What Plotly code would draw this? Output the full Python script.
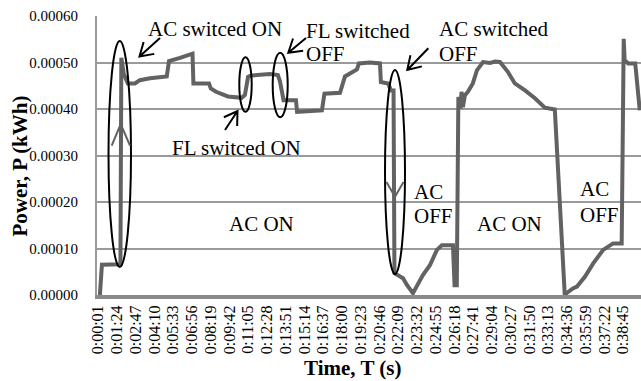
import math
import plotly.graph_objects as go

# ---------------- data ----------------
time_s = [1, 8, 17, 95, 99, 103, 114, 132, 163, 185, 230, 304, 314, 363, 418, 422,
          491, 499, 522, 575, 636, 650, 664, 677, 699, 761, 796, 805, 821, 876, 881,
          938, 991, 1002, 1071, 1093, 1124, 1146, 1155, 1204, 1248, 1252, 1284, 1297,
          1308, 1312, 1350, 1368, 1394, 1412, 1438, 1469, 1500, 1522, 1571, 1578, 1588,
          1595, 1604, 1609, 1615, 1624, 1637, 1659, 1677, 1704, 1735, 1757, 1779, 1814,
          1845, 1890, 1934, 1978, 2022, 2066, 2074, 2102, 2120, 2155, 2192, 2236, 2280,
          2318, 2327, 2331, 2347, 2378, 2398, 2402]
power_kwh = [0.0, 0.0, 0.000065, 0.000065, 0.000066, 0.000510, 0.000475, 0.000455,
             0.000455, 0.000462, 0.000466, 0.000470, 0.000503, 0.000510, 0.000519,
             0.000455, 0.000455, 0.000444, 0.000437, 0.000427, 0.000424, 0.000430,
             0.000469, 0.000472, 0.000473, 0.000475, 0.000473, 0.000460, 0.000419,
             0.000419, 0.000394, 0.000395, 0.000397, 0.000433, 0.000435, 0.000470,
             0.000478, 0.000485, 0.000498, 0.000500, 0.000498, 0.000458, 0.000455,
             0.000440, 0.000440, 0.000047, 0.000036, 0.000021, 0.000004, 0.000021,
             0.000043, 0.000064, 0.000097, 0.000107, 0.000107, 0.000021, 0.000021,
             0.000426, 0.000401, 0.000437, 0.000404, 0.000430, 0.000437, 0.000455,
             0.000483, 0.000501, 0.000499, 0.000502, 0.000501, 0.000480, 0.000455,
             0.000440, 0.000423, 0.000403, 0.000399, 0.0, 0.000004, 0.000014,
             0.000018, 0.000039, 0.000068, 0.000097, 0.000111, 0.000111, 0.000551,
             0.000505, 0.000498, 0.000498, 0.000397]
power_kwh = power_kwh[:len(time_s)]

x_tick_labels = ["0:00:01", "0:01:24", "0:02:47", "0:04:10", "0:05:33", "0:06:56",
                 "0:08:19", "0:09:42", "0:11:05", "0:12:28", "0:13:51", "0:15:14",
                 "0:16:37", "0:18:00", "0:19:23", "0:20:46", "0:22:09", "0:23:32",
                 "0:24:55", "0:26:18", "0:27:41", "0:29:04", "0:30:27", "0:31:50",
                 "0:33:13", "0:34:36", "0:35:59", "0:37:22", "0:38:45"]
y_tick_values = [0.0, 0.0001, 0.0002, 0.0003, 0.0004, 0.0005, 0.0006]
y_tick_labels = ["0.00000", "0.00010", "0.00020", "0.00030", "0.00040", "0.00050", "0.00060"]


def to_seconds(label):
    h, m, s = (int(p) for p in label.split(":"))
    return h * 3600 + m * 60 + s


x_tick_values = [to_seconds(t) for t in x_tick_labels]

# ---------------- layout geometry ----------------
W, H = 641, 381
L, R, T, B = 97, 0, 16, 86
X_MIN, X_MAX = -4.76, 2403.5
Y_MIN, Y_MAX = 0.0, 0.0006


def tx(px):  # reference pixel x -> data x
    return X_MIN + (px - L) / (W - L - R) * (X_MAX - X_MIN)


def vy(py):  # reference pixel y -> data y
    return Y_MIN + (H - B - py) / (H - B - T) * (Y_MAX - Y_MIN)


def px_paper(px):
    return (px - L) / (W - L - R)


def py_paper(py):
    return (H - B - py) / (H - B - T)


FONT = "Liberation Serif"
LINE_GRAY = "#626262"
GRID_GRAY = "#9a9a9a"

fig = go.Figure()
fig.add_trace(go.Scatter(x=time_s, y=power_kwh, mode="lines",
                         line=dict(color=LINE_GRAY, width=4),
                         hoverinfo="skip", showlegend=False))

shapes = []
# ellipses
for (x0, x1, y0, y1) in [(108.5, 131, 41, 267), (239.3, 251.7, 57.3, 111.7),
                         (272.7, 287.7, 52.7, 117.3), (385, 405, 70, 274)]:
    shapes.append(dict(type="circle", xref="x", yref="y", x0=tx(x0), x1=tx(x1),
                       y0=vy(y1), y1=vy(y0), line=dict(color="black", width=2)))


def arrow(tip, tail, length=15, ang=32, color="black", width=2):
    dx, dy = tail[0] - tip[0], tail[1] - tip[1]
    d = math.hypot(dx, dy)
    ux, uy = dx / d, dy / d
    res = []
    for s in (1, -1):
        a = math.radians(ang * s)
        wx = ux * math.cos(a) - uy * math.sin(a)
        wy = ux * math.sin(a) + uy * math.cos(a)
        res.append((tip[0] + length * wx, tip[1] + length * wy))
    p = (f"M{tx(tail[0])!r},{vy(tail[1])!r} L{tx(tip[0])!r},{vy(tip[1])!r} "
         f"M{tx(res[0][0])!r},{vy(res[0][1])!r} L{tx(tip[0])!r},{vy(tip[1])!r} "
         f"L{tx(res[1][0])!r},{vy(res[1][1])!r}")
    return dict(type="path", xref="x", yref="y", path=p,
                line=dict(color=color, width=width))


# black callout arrows
shapes.append(arrow((139.5, 56.5), (160, 38)))
shapes.append(arrow((237.5, 111), (225, 130)))
shapes.append(arrow((288.3, 52.7), (306, 38)))
shapes.append(arrow((407.3, 70), (428.3, 48.3)))


def gray_head(tip, w1, w2):
    p = (f"M{tx(w1[0])!r},{vy(w1[1])!r} L{tx(tip[0])!r},{vy(tip[1])!r} "
         f"L{tx(w2[0])!r},{vy(w2[1])!r}")
    return dict(type="path", xref="x", yref="y", path=p,
                line=dict(color=LINE_GRAY, width=2))


shapes.append(gray_head((120.7, 124), (111.7, 145.7), (130, 145.7)))
shapes.append(gray_head((395, 196.7), (386.5, 182), (403.5, 182)))

annotations = []


def label(text, px, py_center, size=21, bold=False, angle=0, xanchor="left"):
    annotations.append(dict(
        text=f"<b>{text}</b>" if bold else text, xref="paper", yref="paper",
        x=px_paper(px), y=py_paper(py_center), xanchor=xanchor, yanchor="middle",
        showarrow=False, textangle=angle,
        font=dict(family=FONT, size=size, color="black")))


label("AC switced ON", 146, 29)
label("FL switched", 304, 30.5)
label("OFF", 304, 54)
label("FL switced ON", 169.5, 147.5)
label("AC switched", 436.5, 29)
label("OFF", 436.5, 54)
label("AC ON", 226.5, 224)
label("AC", 411.5, 191.5)
label("OFF", 411.5, 215.5)
label("AC ON", 474.5, 224)
label("AC", 577.5, 189)
label("OFF", 577.5, 215)
label("Time, T (s)", 352.5, 367.5, size=21, bold=True, xanchor="center")
label("Power, P (kWh)", 19, 166.5, size=21, bold=True, angle=-90, xanchor="center")

fig.update_layout(
    template="none",
    width=W, height=H, margin=dict(l=L, r=R, t=T, b=B, pad=0, autoexpand=False),
    paper_bgcolor="white", plot_bgcolor="white",
    shapes=shapes, annotations=annotations, showlegend=False,
    font=dict(family=FONT, color="black"),
    xaxis=dict(range=[X_MIN, X_MAX], tickmode="array", tickvals=x_tick_values,
               ticktext=x_tick_labels, tickangle=-90, showgrid=False, zeroline=False,
               showline=True, linecolor="#8a8a8a", linewidth=4, ticks="",
               automargin=False,
               tickfont=dict(family=FONT, size=16, color="black")),
    yaxis=dict(range=[Y_MIN, Y_MAX], tickmode="array", tickvals=y_tick_values,
               ticktext=y_tick_labels, showgrid=True, gridcolor=GRID_GRAY, gridwidth=2,
               zeroline=False, showline=True, linecolor=GRID_GRAY, linewidth=2,
               ticks="", ticklabelstandoff=14, automargin=False,
               tickfont=dict(family=FONT, size=15, color="black")),
)

fig.write_html(
    "out.html",
    config={"displayModeBar": False, "staticPlot": True},
    post_script="document.body.style.margin='0';document.body.style.overflow='hidden';",
)
